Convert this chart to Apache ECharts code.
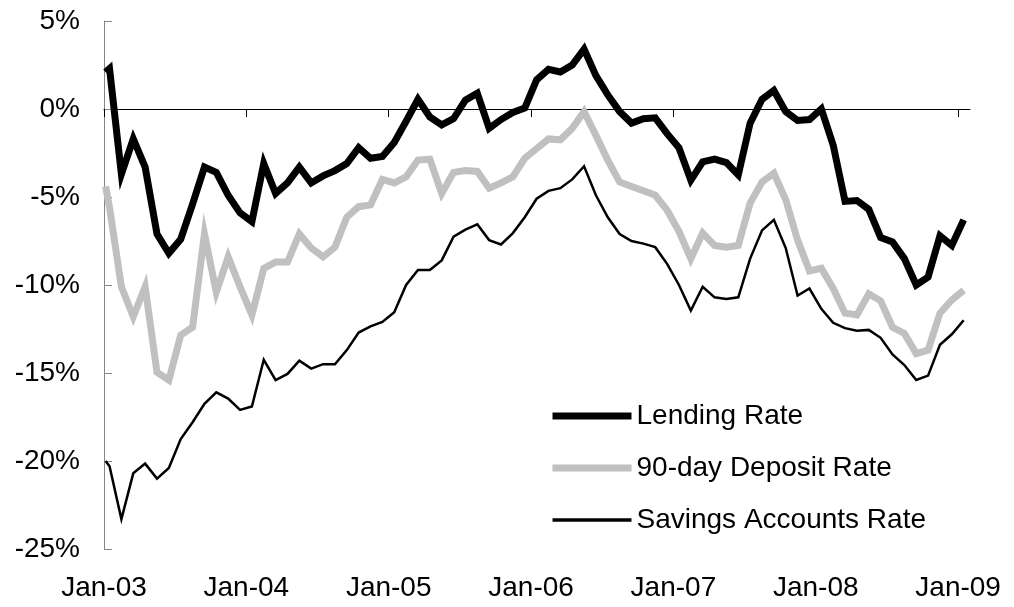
<!DOCTYPE html>
<html>
<head>
<meta charset="utf-8">
<script src="https://cdn.jsdelivr.net/npm/echarts@6/dist/echarts.min.js"></script>
<style>
html,body{margin:0;padding:0;background:#fff;}
#chart{width:1014px;height:607px;}
</style>
</head>
<body>
<div id="chart"></div>
<script>
// Observation dates (first reading in early Jan-03, then monthly mid-month)
const dates = [
  '2003-01-05',
  '2003-01-15','2003-02-15','2003-03-15','2003-04-15','2003-05-15','2003-06-15','2003-07-15','2003-08-15','2003-09-15','2003-10-15','2003-11-15','2003-12-15',
  '2004-01-15','2004-02-15','2004-03-15','2004-04-15','2004-05-15','2004-06-15','2004-07-15','2004-08-15','2004-09-15','2004-10-15','2004-11-15','2004-12-15',
  '2005-01-15','2005-02-15','2005-03-15','2005-04-15','2005-05-15','2005-06-15','2005-07-15','2005-08-15','2005-09-15','2005-10-15','2005-11-15','2005-12-15',
  '2006-01-15','2006-02-15','2006-03-15','2006-04-15','2006-05-15','2006-06-15','2006-07-15','2006-08-15','2006-09-15','2006-10-15','2006-11-15','2006-12-15',
  '2007-01-15','2007-02-15','2007-03-15','2007-04-15','2007-05-15','2007-06-15','2007-07-15','2007-08-15','2007-09-15','2007-10-15','2007-11-15','2007-12-15',
  '2008-01-15','2008-02-15','2008-03-15','2008-04-15','2008-05-15','2008-06-15','2008-07-15','2008-08-15','2008-09-15','2008-10-15','2008-11-15','2008-12-15',
  '2009-01-15'
];

const lendingRate = [
  2.1,
  2.3,-3.7,-1.7,-3.3,-7.1,-8.2,-7.4,-5.4,-3.3,-3.6,-4.9,-5.9,
  -6.4,-3.1,-4.8,-4.2,-3.3,-4.2,-3.8,-3.5,-3.1,-2.2,-2.8,-2.7,
  -1.9,-0.7,0.55,-0.45,-0.9,-0.55,0.5,0.9,-1.1,-0.6,-0.2,0.05,
  1.65,2.25,2.1,2.5,3.4,1.9,0.8,-0.15,-0.8,-0.55,-0.5,-1.4,
  -2.2,-4.05,-3.0,-2.85,-3.05,-3.75,-0.8,0.55,1.05,-0.15,-0.65,-0.6,
  0.0,-2.05,-5.25,-5.2,-5.7,-7.3,-7.55,-8.5,-10.0,-9.55,-7.2,-7.75,
  -6.3
];

const depositRate = [
  -4.4,
  -5.6,-10.1,-11.8,-10.1,-14.95,-15.4,-12.85,-12.4,-7.1,-10.4,-8.4,-10.1,
  -11.7,-9.05,-8.7,-8.7,-7.1,-7.9,-8.4,-7.85,-6.15,-5.55,-5.45,-4.0,
  -4.2,-3.85,-2.9,-2.85,-4.8,-3.6,-3.5,-3.55,-4.5,-4.2,-3.85,-2.8,
  -2.25,-1.7,-1.75,-1.1,-0.15,-1.5,-2.9,-4.15,-4.4,-4.65,-4.9,-5.75,
  -6.95,-8.5,-7.05,-7.75,-7.85,-7.75,-5.35,-4.15,-3.65,-5.15,-7.45,-9.2,
  -9.05,-10.2,-11.6,-11.7,-10.5,-10.9,-12.4,-12.75,-13.9,-13.7,-11.6,-10.85,
  -10.3
];

const savingsRate = [
  -20.0,
  -20.3,-23.3,-20.7,-20.15,-21.0,-20.4,-18.75,-17.8,-16.75,-16.1,-16.45,-17.1,
  -16.9,-14.25,-15.4,-15.05,-14.3,-14.75,-14.5,-14.5,-13.7,-12.7,-12.35,-12.1,
  -11.55,-10.0,-9.15,-9.15,-8.6,-7.25,-6.85,-6.55,-7.45,-7.7,-7.05,-6.15,
  -5.1,-4.65,-4.5,-4.0,-3.25,-4.9,-6.15,-7.1,-7.5,-7.65,-7.85,-8.8,
  -10.0,-11.45,-10.1,-10.7,-10.8,-10.7,-8.5,-6.9,-6.3,-7.9,-10.6,-10.2,
  -11.35,-12.15,-12.45,-12.6,-12.55,-13.0,-13.95,-14.55,-15.4,-15.15,-13.4,-12.8,
  -12.0
];

const tickLabels = ['Jan-03','Jan-04','Jan-05','Jan-06','Jan-07','Jan-08','Jan-09'];
const seriesNames = ['Lending Rate','90-day Deposit Rate','Savings Accounts Rate'];
const seriesColors = ['#000000', '#c0c0c0', '#000000'];
const seriesWidths = [7, 7, 2.5];
const legendWidths = [7, 7, 3.5];

// months elapsed since 1 Jan 2003
function monthPos(s) {
  const [y, m, d] = s.split('-').map(Number);
  return (y - 2003) * 12 + (m - 1) + (d - 1) / 30;
}
const tickValues = tickLabels.map((_, i) => i * 12);
const xMax = 73; // axis runs to Feb-09
const pair = arr => dates.map((d, i) => [monthPos(d), arr[i]]);
const values = [lendingRate, depositRate, savingsRate];

const FONT = "'Liberation Sans', Arial, sans-serif";
const FS = 28;
const chart = echarts.init(document.getElementById('chart'), null, {renderer: 'canvas'});

chart.setOption({
  animation: false,
  backgroundColor: '#ffffff',
  textStyle: {fontFamily: FONT},
  grid: {left: 104, right: 44, top: 21, bottom: 58},
  xAxis: [
    {
      type: 'value', min: 0, max: xMax, interval: 12,
      axisLine: {show: true, onZero: true, lineStyle: {color: '#000', width: 1}},
      axisTick: {show: true, length: 8, customValues: tickValues, lineStyle: {color: '#000', width: 1}},
      axisLabel: {show: false},
      splitLine: {show: false}
    },
    {
      type: 'value', min: 0, max: xMax, interval: 12, position: 'bottom',
      axisLine: {show: false, onZero: false},
      axisTick: {show: false},
      axisLabel: {
        show: true, margin: 25, customValues: tickValues,
        fontSize: FS, color: '#000', fontFamily: FONT,
        formatter: v => tickLabels[Math.round(v / 12)] || ''
      },
      splitLine: {show: false}
    }
  ],
  yAxis: {
    type: 'value', min: -25, max: 5, interval: 5,
    axisLine: {show: true, onZero: false, lineStyle: {color: '#868686', width: 1}},
    axisTick: {show: true, inside: true, length: 8, lineStyle: {color: '#868686', width: 1}},
    axisLabel: {formatter: '{value}%', fontSize: FS, color: '#000', margin: 24, fontFamily: FONT},
    splitLine: {show: false}
  },
  legend: {
    orient: 'vertical', left: 549, top: 401,
    itemWidth: 79, itemHeight: 12, itemGap: 22, padding: 0,
    textStyle: {fontSize: FS, color: '#000', fontFamily: FONT, lineHeight: 30},
    data: seriesNames.map((n, i) => ({
      name: n,
      itemStyle: {opacity: 0},
      lineStyle: {width: legendWidths[i], color: seriesColors[i], cap: 'butt'}
    }))
  },
  series: seriesNames.map((n, i) => ({
    name: n, type: 'line', data: pair(values[i]), showSymbol: false, symbol: 'none',
    lineStyle: {color: seriesColors[i], width: seriesWidths[i], join: 'miter'},
    itemStyle: {color: seriesColors[i]}, z: 4 - i
  }))
});
</script>
</body>
</html>
